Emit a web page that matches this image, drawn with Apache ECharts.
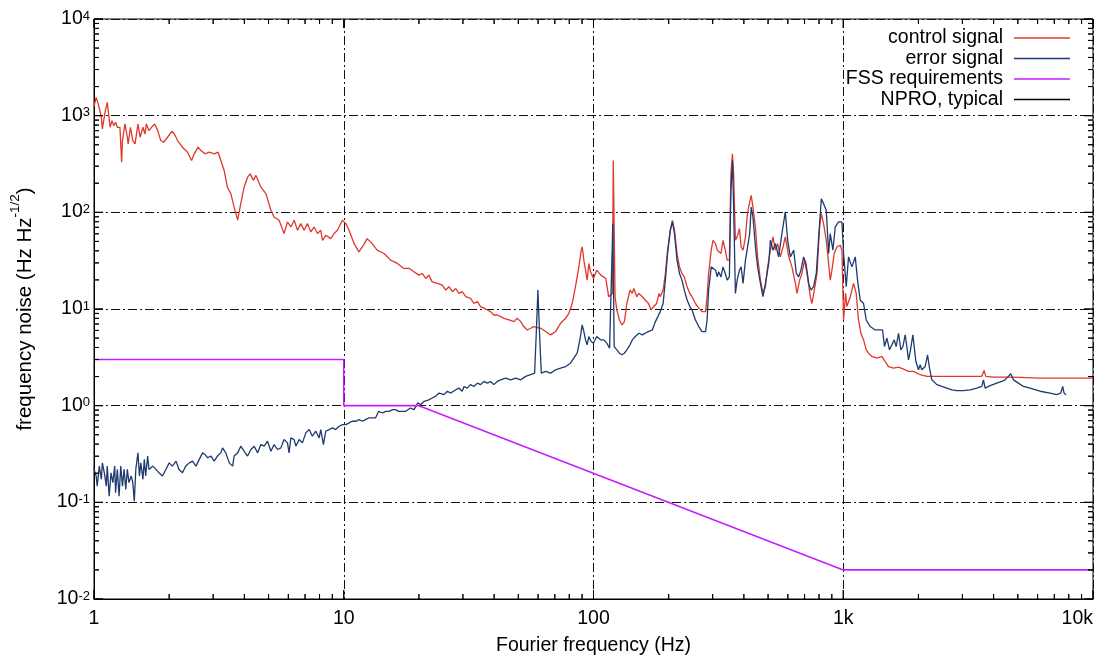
<!DOCTYPE html>
<html>
<head>
<meta charset="utf-8">
<script src="https://cdn.jsdelivr.net/npm/echarts@6/dist/echarts.min.js"></script>
<style>
html,body{margin:0;padding:0;background:#fff;}
#chart{width:1101px;height:664px;}
</style>
</head>
<body>
<div id="chart"></div>
<script>
// ---- data ([frequency Hz, value Hz/sqrt(Hz)]) ----
const seriesNames = ['control signal', 'error signal', 'FSS requirements', 'NPRO, typical'];
const xTickValues = [1, 10, 100, 1000, 10000];
const xTickLabels = ['1', '10', '100', '1k', '10k'];

const controlSignal = [
[1.00,1240],[1.02,1545],[1.04,1320],[1.07,960],[1.08,730],[1.11,1127],[1.13,1372],[1.14,1127],[1.16,758],[1.18,888],[1.20,789],[1.22,854],[1.24,758],[1.27,758],[1.29,330],[1.30,553],[1.33,821],[1.36,598],[1.37,511],[1.40,758],[1.43,553],[1.46,511],[1.50,821],[1.53,598],[1.57,758],[1.60,647],[1.62,821],[1.66,700],[1.70,758],[1.75,821],[1.80,700],[1.85,553],[1.90,531],[1.97,598],[2.05,689],[2.10,647],[2.16,553],[2.26,472],[2.37,419],[2.46,344],[2.52,403],[2.61,472],[2.68,436],[2.78,403],[2.89,419],[3.03,403],[3.14,419],[3.22,344],[3.32,271],[3.42,182],[3.53,156],[3.64,113],[3.76,83],[3.87,123],[3.99,182],[4.12,231],[4.22,250],[4.35,214],[4.45,241],[4.54,214],[4.66,182],[4.88,156],[5.11,105],[5.26,89.5],[5.51,82.7],[5.77,60.3],[5.95,79.5],[6.14,70.6],[6.33,82.7],[6.53,65.2],[6.73,76.4],[6.94,65.2],[7.16,76.4],[7.38,62.7],[7.61,70.6],[7.85,60.3],[8.09,65.2],[8.22,51.4],[8.47,57.9],[8.87,53.5],[9.15,60.3],[9.43,65.2],[9.88,82.7],[10.2,76.4],[10.5,65.2],[11.0,47.5],[11.5,39.0],[12.1,47.5],[12.4,53.5],[13.0,47.5],[13.6,40.6],[14.5,37.5],[15.4,32.0],[16.4,29.6],
[17.4,26.3],[18.3,26.3],[19.1,24.3],[20.0,22.4],[20.6,23.3],[21.3,20.7],[21.9,22.4],[22.6,19.1],[23.7,18.4],[24.8,17.7],[25.6,15.7],[26.4,17.0],[27.2,15.1],[28.1,16.3],[28.9,14.5],[29.8,15.1],[30.8,13.4],[32.2,12.9],[33.2,11.4],[34.3,11.9],[35.3,10.6],[36.4,10.2],[37.6,9.77],[38.7,9.39],[39.9,8.67],[41.2,8.67],[42.5,8.34],[43.8,8.01],[45.9,7.70],[48.0,7.40],[49.5,8.01],[51.1,7.40],[52.6,6.58],[54.3,6.07],[56.0,6.32],[57.7,6.58],[61.4,6.32],[64.3,5.84],[67.3,5.40],[70.5,5.84],[73.8,7.11],[77.3,8.01],[79.7,9.02],[82.2,11.4],[84.7,17.0],[87.4,27.3],[89.3,40.6],[90.1,43.9],[91.5,32.0],[92.9,25.2],[94.3,19.9],[95.8,29.6],[97.3,24.3],[100,20.7],[103,25.2],[107,22.4],[112,20.7],[115,13.4],[117,13.4],[119,14.5],[120,344],[122,13.4],[124,9.77],[127,7.70],[130,6.84],[133,7.40],[136,11.4],[140,15.7],[143,14.5],[145,16.3],[149,13.4],[152,14.5],[157,13.4],[161,12.4],[166,11.4],[170,9.77],[174,10.6],[179,11.4],[183,14.5],[185,13.4],[190,15.7],[194,23.3],[198,40.6],[203,65.2],[207,82.7],[211,65.2],[216,37.5],[221,27.3],[226,23.3],[231,21.5],[237,17.0],[243,14.5],[248,13.4],[256,11.4],[264,10.2],[272,9.39],[281,9.39],[285,13.4],[289,23.3],[296,40.6],[301,51.4],[308,47.5],[313,40.6],[317,42.2],[324,37.5],[330,51.4],[337,40.6],[343,32.0],[350,32.0],[355,250],[360,403],[364,250],[370,51.4],[376,55.7],[384,67.9],[390,43.9],[397,40.6],[406,55.7],[412,89.5],[418,113],[428,150],[435,113],[445,70.6],[454,34.6],[466,19.9],[477,14.5],[488,17.0],[498,27.3],[511,40.6],[523,55.7],[535,40.6],[546,47.5],[560,34.6],[574,43.9],[586,55.7],[605,34.6],[623,27.3],[643,18.4],[653,14.5],[669,19.9],[683,23.3],[700,32.0],[716,23.3],[738,13.4],[749,11.4],[766,15.7],[785,23.3],[804,70.6],[817,96.9],[834,76.4],[855,51.4],[874,29.6],[887,19.9],[901,25.2],[920,37.5],[943,43.9],[973,45.7],[988,40.6],[1003,7.70],[1022,14.5],[1034,10.6],[1067,13.4],[1100,18.4],[1127,14.5],[1151,7.70],[1177,5.61],[1206,4.79],[1236,3.78],[1263,3.49],[1302,3.23],[1363,3.10],[1428,3.23],[1472,2.86],[1518,2.54],[1590,2.44],[1665,2.50],[1743,2.39],[1825,2.26],[1911,2.26],[2032,2.09],[2161,2.01],[2443,2.01],[2849,2.01],[3321,2.01],[3586,2.01],[3664,2.31],[3721,2.01],[3993,1.97],[4515,1.97],[5105,1.96],[6138,1.93],[8343,1.93],[10000,1.93]
];

const errorSignal = [
[1.00,0.219],[1.02,0.187],[1.03,0.147],[1.05,0.237],[1.07,0.173],[1.08,0.256],[1.10,0.202],[1.12,0.147],[1.13,0.237],[1.15,0.116],[1.17,0.202],[1.19,0.160],[1.21,0.237],[1.22,0.126],[1.24,0.219],[1.26,0.116],[1.28,0.237],[1.30,0.147],[1.32,0.219],[1.34,0.136],[1.36,0.219],[1.38,0.160],[1.41,0.187],[1.43,0.160],[1.45,0.103],[1.47,0.219],[1.50,0.325],[1.52,0.187],[1.54,0.256],[1.57,0.173],[1.59,0.278],[1.61,0.187],[1.64,0.301],[1.66,0.219],[1.72,0.237],[1.77,0.219],[1.82,0.202],[1.88,0.187],[1.94,0.219],[2.00,0.256],[2.06,0.237],[2.13,0.267],[2.19,0.219],[2.26,0.202],[2.33,0.237],[2.41,0.256],[2.48,0.267],[2.56,0.237],[2.64,0.278],[2.72,0.325],[2.78,0.313],[2.85,0.289],[2.94,0.301],[3.03,0.267],[3.12,0.301],[3.22,0.325],[3.27,0.366],[3.37,0.325],[3.48,0.256],[3.59,0.237],[3.64,0.301],[3.76,0.325],[3.87,0.381],[3.99,0.338],[4.12,0.301],[4.25,0.352],[4.38,0.381],[4.52,0.325],[4.66,0.396],[4.80,0.381],[4.95,0.429],[5.11,0.338],[5.26,0.396],[5.43,0.352],[5.60,0.366],[5.77,0.446],[5.95,0.412],[6.04,0.325],[6.14,0.464],[6.33,0.446],[6.43,0.381],[6.63,0.446],[6.83,0.412],[7.05,0.523],[7.27,0.566],[7.49,0.483],[7.73,0.544],[7.97,0.464],[8.09,0.566],[8.29,0.396],[8.47,0.544],[8.74,0.566],[9.01,0.589],[9.29,0.566],[9.58,0.612],[9.88,0.637],[10.2,0.637],[10.5,0.663],[10.8,0.690],[11.2,0.690],[11.5,0.717],[11.9,0.690],[12.2,0.717],[12.6,0.746],[13.0,0.746],[13.4,0.746],[13.8,0.874],[14.3,0.840],[14.7,0.874],[15.2,0.874],[15.7,0.909],[16.1,0.909],[16.6,0.874],[17.7,0.874],[18.5,0.946],[19.1,0.909],[19.8,1.07],[20.3,1.02],[21.0,1.11],[21.9,1.15],[22.6,1.20],[23.3,1.25],[24.1,1.35],[25.2,1.30],[26.0,1.41],[26.8,1.35],[28.1,1.46],[28.9,1.52],[29.8,1.41],[30.3,1.58],[31.2,1.52],[32.2,1.65],[33.2,1.58],[34.3,1.71],[35.3,1.65],[36.4,1.78],[37.6,1.71],[38.7,1.78],[39.9,1.65],[41.2,1.78],[42.5,1.85],[44.5,1.93],[46.6,1.85],[48.8,1.93],[51.1,1.85],[53.5,2.01],[56.0,2.09],[58.1,2.17],[59.0,5.61],[59.9,15.7],[60.8,5.61],[61.8,2.17],[64.3,2.26],[67.3,2.17],[70.5,2.35],[73.8,2.44],[77.3,2.54],[80.9,2.75],[83.4,3.10],[86.0,3.49],[88.2,4.79],[90.1,6.84],[91.5,5.84],[92.9,4.79],[94.3,4.26],[95.8,5.19],[97.9,4.61],[100,4.43],[103,5.19],[107,4.79],[110,4.79],[113,4.43],[116,3.93],[118,4.09],[119.5,76.4],[121,4.09],[124,3.78],[127,3.49],[130,3.36],[133,3.49],[136,3.78],[140,4.26],[143,4.79],[147,5.19],[152,5.61],[157,5.40],[161,5.61],[166,5.84],[172,6.07],[177,7.40],[181,8.34],[185,9.39],[190,11.4],[194,19.9],[198,37.5],[203,65.2],[207,79.5],[211,60.3],[216,32.0],[221,23.3],[226,19.9],[231,15.7],[237,12.4],[243,10.6],[248,9.77],[256,7.70],[264,6.58],[272,5.84],[281,5.84],[285,7.70],[289,15.7],[296,27.3],[301,28.4],[308,25.2],[313,21.5],[317,24.3],[324,21.5],[330,27.3],[337,23.3],[343,19.9],[350,21.5],[355,169],[360,344],[364,113],[370,14.5],[376,19.9],[384,25.2],[390,27.3],[397,18.4],[406,32.0],[412,40.6],[418,51.4],[422,60.3],[428,113],[435,89.5],[445,43.9],[454,27.3],[466,18.4],[477,13.4],[488,18.4],[503,29.6],[511,51.4],[523,40.6],[535,47.5],[551,34.6],[568,60.3],[586,101],[599,51.4],[614,34.6],[633,40.6],[649,23.3],[663,21.5],[677,25.2],[694,34.6],[709,29.6],[727,18.4],[743,15.7],[761,17.0],[780,23.3],[799,60.3],[817,138],[834,123],[855,105],[874,37.5],[887,60.3],[909,40.6],[929,70.6],[958,79.5],[988,79.5],[1003,37.5],[1028,17.0],[1050,34.6],[1083,27.3],[1117,34.6],[1141,19.9],[1169,12.4],[1206,11.4],[1236,7.70],[1282,6.58],[1343,6.07],[1406,6.07],[1437,6.07],[1463,4.09],[1495,4.99],[1532,3.78],[1566,4.26],[1600,4.79],[1629,4.09],[1665,5.61],[1701,3.78],[1733,4.09],[1770,5.40],[1797,4.09],[1825,2.98],[1854,3.63],[1900,5.40],[1923,4.09],[1953,2.86],[2001,2.35],[2032,2.65],[2064,2.35],[2128,2.54],[2175,3.36],[2215,2.44],[2263,1.85],[2370,1.65],[2482,1.58],[2598,1.52],[2721,1.46],[2849,1.43],[3029,1.43],[3221,1.46],[3425,1.52],[3586,1.58],[3642,1.85],[3698,1.52],[3873,1.61],[4119,1.71],[4313,1.78],[4446,1.85],[4585,2.01],[4685,2.14],[4801,1.85],[5027,1.71],[5264,1.58],[5598,1.52],[6138,1.41],[6730,1.35],[7156,1.30],[7426,1.35],[7564,1.58],[7656,1.35],[7800,1.30]
];

const fssRequirements = [[1,3],[10,3],[10,1],[20,1],[1000,0.02],[10000,0.02]];
const nproTypical = [[1,10000],[10000,1]];

// ---- chart ----
const X_MIN = 1, X_MAX = 10000, Y_MIN = 0.01, Y_MAX = 10000;
const FONT = 'Liberation Sans';
const FS = 19.5;
const colors = ['#e0382c', '#1f3a6e', '#c81cff', '#3a9a40'];

function expLabel(v) {
  const e = Math.round(Math.log10(v));
  return '{b|10}{e|' + e + '}';
}

const chart = echarts.init(document.getElementById('chart'), null, {renderer: 'canvas'});
const gridLine = {show: true, lineStyle: {color: '#111', width: 1, type: [9, 3, 2, 3]}};
const option = {
  animation: false,
  textStyle: {fontFamily: FONT, color: '#000'},
  grid: {left: 93, right: 8, top: 19, bottom: 65, show: true, borderColor: '#000', borderWidth: 1, backgroundColor: 'transparent'},
  legend: {
    data: seriesNames,
    orient: 'vertical', right: 26, top: 23, align: 'right',
    icon: 'rect', itemWidth: 56, itemHeight: 1.6, itemGap: 0.5,
    textStyle: {fontFamily: FONT, fontSize: FS, color: '#000', lineHeight: 19, padding: [0, 6, 0, 0]}
  },
  xAxis: {
    type: 'log', logBase: 10, min: X_MIN, max: X_MAX,
    name: 'Fourier frequency (Hz)', nameLocation: 'middle', nameGap: 37,
    nameTextStyle: {fontFamily: FONT, fontSize: FS, color: '#000'},
    axisLine: {show: true, lineStyle: {color: '#000', width: 1}},
    axisTick: {show: false},
    axisLabel: {
      fontFamily: FONT, fontSize: FS, color: '#000', margin: 10, alignMaxLabel: 'right',
      formatter: v => { const i = xTickValues.findIndex(t => Math.abs(Math.log10(t) - Math.log10(v)) < 1e-6); return i >= 0 ? xTickLabels[i] : ''; }
    },
    splitLine: gridLine
  },
  yAxis: {
    type: 'log', logBase: 10, min: Y_MIN, max: Y_MAX,
    name: '{n|frequency noise (Hz Hz}{s|-1/2}{n|)}', nameLocation: 'middle', nameGap: 58, nameRotate: 90,
    nameTextStyle: {fontFamily: FONT, color: '#000', rich: {
      n: {fontFamily: FONT, fontSize: 20.5, lineHeight: 28, verticalAlign: 'bottom', color: '#000'},
      s: {fontFamily: FONT, fontSize: 13.5, lineHeight: 13, verticalAlign: 'top', color: '#000'}
    }},
    axisLine: {show: true, lineStyle: {color: '#000', width: 1}},
    axisTick: {show: false},
    axisLabel: {
      margin: 4, formatter: expLabel,
      rich: {
        b: {fontFamily: FONT, fontSize: FS, lineHeight: 19, verticalAlign: 'bottom', color: '#000'},
        e: {fontFamily: FONT, fontSize: 13, lineHeight: 13, verticalAlign: 'top', color: '#000'}
      }
    },
    splitLine: gridLine
  },
  series: [
    {name: seriesNames[0], type: 'line', data: controlSignal, showSymbol: false, symbol: 'none', color: colors[0], lineStyle: {width: 1.3, color: colors[0]}, z: 3},
    {name: seriesNames[1], type: 'line', data: errorSignal, showSymbol: false, symbol: 'none', color: colors[1], lineStyle: {width: 1.3, color: colors[1]}, z: 4},
    {name: seriesNames[2], type: 'line', data: fssRequirements, showSymbol: false, symbol: 'none', color: colors[2], lineStyle: {width: 1.6, color: colors[2]}, z: 5},
    {name: seriesNames[3], type: 'line', data: nproTypical, showSymbol: false, symbol: 'none', color: colors[3], lineStyle: {width: 1.4, color: colors[3]}, z: 6}
  ]
};
chart.setOption(option);

// Axis ticks mirrored on all four sides (major on decades, minor at 2..9 of each decade),
// placed through the chart's own log scales.
const finder = {xAxisIndex: 0, yAxisIndex: 0};
const tickPix = [];   // pixel segments for direct drawing
const tickSegs = [];  // data-space segments for a line series
function addTick(x, y, side, len) {
  const p = chart.convertToPixel(finder, [x, y]);
  const q = p.slice();
  if (side === 0) q[1] -= len; else if (side === 1) q[1] += len; else if (side === 2) q[0] += len; else q[0] -= len;
  tickPix.push([p[0], p[1], q[0], q[1]]);
  const end = chart.convertFromPixel(finder, q);
  tickSegs.push([x, y], [end[0], end[1]], ['-', '-']);
}
try {
  for (let e = 0; e <= 4; e++) {
    const d = Math.pow(10, e);
    addTick(d, Y_MIN, 0, 9); addTick(d, Y_MAX, 1, 9);
    if (e < 4) for (let k = 2; k <= 9; k++) { addTick(k * d, Y_MIN, 0, 5); addTick(k * d, Y_MAX, 1, 5); }
  }
  for (let e = -2; e <= 4; e++) {
    const d = Math.pow(10, e);
    addTick(X_MIN, d, 2, 9); addTick(X_MAX, d, 3, 9);
    if (e < 4) for (let k = 2; k <= 9; k++) { addTick(X_MIN, k * d, 2, 5); addTick(X_MAX, k * d, 3, 5); }
  }
} catch (err) {}

// 1) as zrender line elements added straight to the chart's renderer
try {
  const zr = chart.getZr();
  tickPix.forEach(s => {
    zr.add(new echarts.graphic.Line({
      shape: {x1: s[0], y1: s[1], x2: s[2], y2: s[3]},
      style: {stroke: '#000', lineWidth: 1},
      silent: true, z: 100
    }));
  });
} catch (err) {}

// 2) as a line series that shares a legend name (so no legend filter can hide it)
try {
  chart.setOption({series: [{}, {}, {}, {}, {
    name: seriesNames[3], type: 'line', data: tickSegs, showSymbol: false, symbol: 'none',
    connectNulls: false, silent: true, clip: false, z: 7,
    color: '#000', lineStyle: {width: 1, color: '#000'}
  }]});
} catch (err) {}
</script>
</body>
</html>
